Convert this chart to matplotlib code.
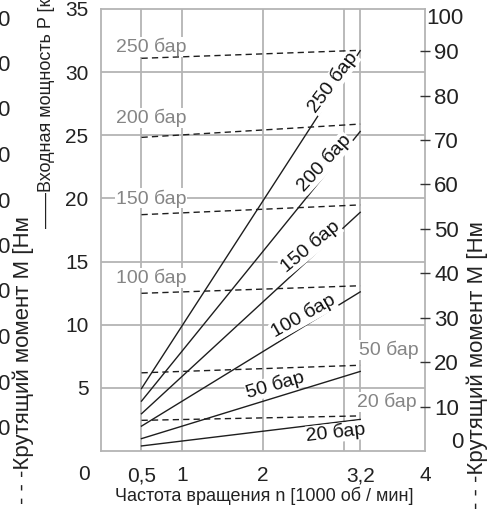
import numpy as np
import matplotlib
matplotlib.use('Agg')
import matplotlib.pyplot as plt

plt.rcParams['font.family'] = ['Liberation Sans', 'DejaVu Sans']

# pressure levels, bar
pressures = [250, 200, 150, 100, 50, 20]
# speed at line ends, 1000 rpm
speed = [0.5, 3.2]
# input power P [kW] at start / end speed (solid lines, left axis)
power_start = [4.95, 3.95, 2.95, 1.97, 0.98, 0.4]
power_end = [31.7, 25.3, 18.9, 12.6, 6.3, 2.5]
# torque M [Nm] at start / end speed (dashed lines, right axis)
torque_start = [88.4, 70.6, 53.2, 35.5, 17.6, 6.9]
torque_end = [90.2, 73.6, 55.4, 37.2, 19.3, 7.9]

x_ticks = [0.5, 1, 2, 3.2, 4]
x_ticklabels = ['0,5', '1', '2', '3,2', '4']
x_grid = [0.5, 1, 2, 3, 3.2]
p_ticks = [5, 10, 15, 20, 25, 30, 35]
m_ticks = [10, 20, 30, 40, 50, 60, 70, 80, 90]

W, H = 502, 515
GRID = '#b4b4b4'
GRAYTXT = '#858585'
LINE = '#1e1e1e'
TXT = '#222222'

fig = plt.figure(figsize=(W / 100, H / 100), dpi=100)
ax = fig.add_axes([101 / W, 1 - 451 / H, 324 / W, 442 / H])
ax.set_xlim(0, 4)
ax.set_ylim(0, 35)
ax2 = ax.twinx()
ax2.set_ylim(0, 99.5)

for s in ax.spines.values():
    s.set_color(GRID)
    s.set_linewidth(1.3)
for s in ax2.spines.values():
    s.set_visible(False)

for xv in x_grid:
    ax.axvline(xv, color=GRID, lw=1.3, zorder=1)
for yv in p_ticks[:-1]:
    ax.axhline(yv, color=GRID, lw=1.3, zorder=1)

ax.set_xticks(x_ticks)
ax.set_xticklabels(x_ticklabels)
ax.set_yticks(p_ticks)
ax.tick_params(axis='both', length=0, labelsize=15, colors=TXT)
ax.tick_params(axis='x', pad=11)
ax.tick_params(axis='y', pad=9)

ax2.set_yticks(m_ticks)
ax2.tick_params(axis='y', direction='inout', length=7, width=1.0, color='#333333',
                labelsize=16, labelcolor=TXT, pad=3)

# corner labels
ax.annotate('0', xy=(84, H - 474), xycoords='figure pixels', fontsize=15, color=TXT,
            ha='center', va='center')
ax.annotate('100', xy=(464, H - 18), xycoords='figure pixels', fontsize=16, color=TXT,
            ha='right', va='center')
ax.annotate('0', xy=(464, H - 443), xycoords='figure pixels', fontsize=16, color=TXT,
            ha='right', va='center')

# lines
for p, p0, p1, m0, m1 in zip(pressures, power_start, power_end, torque_start, torque_end):
    ax.plot(speed, [p0, p1], color=LINE, lw=1.0, zorder=3)
    ax2.plot(speed, [m0, m1], color=LINE, lw=1.0, ls=(0, (4.5, 3)), zorder=3)

# torque labels (gray, on white)
gray_pos = {250: (0.19, 32.0), 200: (0.18, 26.4), 150: (0.18, 20.0),
            100: (0.18, 13.7), 50: (3.18, 8.0), 20: (3.16, 3.9)}
for p, (xv, yv) in gray_pos.items():
    ax.text(xv, yv, f'{p} бар', color=GRAYTXT, fontsize=14, ha='left', va='center',
            zorder=4, bbox=dict(facecolor='white', edgecolor='none', pad=0.5))

# power labels along lines
black_pos = {250: (2.86, 29.2), 200: (2.76, 22.8), 150: (2.59, 16.2),
             100: (2.50, 10.7), 50: (2.15, 5.2), 20: (2.9, 1.45)}
fig.canvas.draw()
for p, p0, p1 in zip(pressures, power_start, power_end):
    a = ax.transData.transform((speed[0], p0))
    b = ax.transData.transform((speed[1], p1))
    ang = np.degrees(np.arctan2(b[1] - a[1], b[0] - a[0]))
    xv, yv = black_pos[p]
    ax.text(xv, yv, f'{p} бар', color='#111111', fontsize=14, rotation=ang * 0.93,
            rotation_mode='anchor', ha='center', va='center', zorder=4,
            bbox=dict(facecolor='white', edgecolor='none', pad=0.3))

# axis titles
fig.text(264 / W, 1 - 496 / H, 'Частота вращения n [1000 об / мин]', fontsize=13,
         color=TXT, ha='center', va='center')
fig.text(47 / W, 1 - 228 / H, '——Входная мощность P [кВт]', fontsize=13,
         color=TXT, rotation=90, rotation_mode='anchor', ha='left', va='center')
fig.text(23 / W, 1 - 504 / H, '- - -Крутящий момент М [Нм', fontsize=16,
         color=TXT, rotation=90, rotation_mode='anchor', ha='left', va='center')
fig.text(477 / W, 1 - 509 / H, '- - -Крутящий момент М [Нм', fontsize=16,
         color=TXT, rotation=90, rotation_mode='anchor', ha='left', va='center')

# cut-off labels of the neighbouring chart at the left edge
for i in range(10):
    fig.text(9 / W, 1 - (20 + 45.5 * i) / H, '0', fontsize=16, color=TXT,
             ha='right', va='center')

fig.savefig('out.png', dpi=100)
